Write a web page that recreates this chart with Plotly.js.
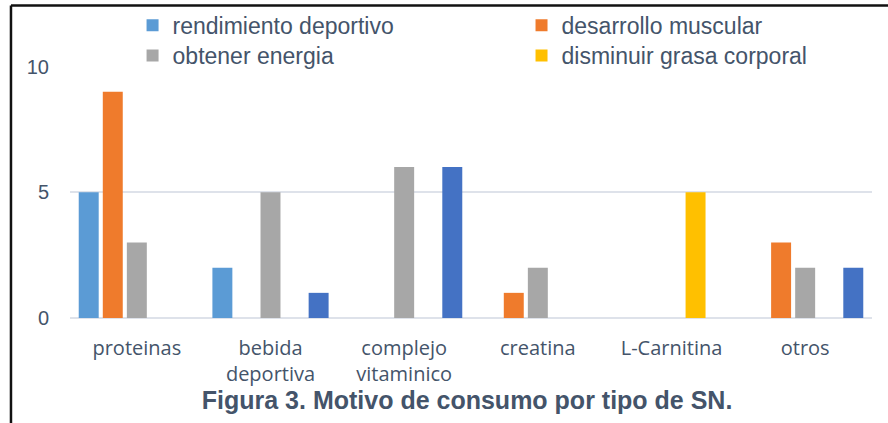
<!DOCTYPE html>
<html>
<head>
<meta charset="utf-8">
<script src="https://cdn.plot.ly/plotly-3.0.1.min.js"></script>
<style>html,body{margin:0;padding:0;background:#fff;}#chart{width:888px;height:423px;}</style>
</head>
<body>
<div id="chart"></div>
<script>
const categories = ["proteinas", "bebida<br>deportiva", "complejo<br>vitaminico", "creatina", "L-Carnitina", "otros"];
const rendimientoDeportivo = [5, 2, 0, 0, 0, 0];
const desarrolloMuscular = [9, 0, 0, 1, 0, 3];
const obtenerEnergia = [3, 5, 6, 2, 0, 2];
const disminuirGrasa = [0, 0, 0, 0, 5, 0];
const otroMotivo = [0, 1, 6, 0, 0, 2];
const seriesNames = ["rendimiento deportivo", "desarrollo muscular", "obtener energia", "disminuir grasa corporal", "otro motivo"];
const yTickVals = [0, 5, 10];
const yTickText = ["0", "5", "10"];
const chartTitle = "Figura 3. Motivo de consumo por tipo de SN.";

const textColor = "#44546A";
const colors = ["#5B9BD5", "#EF7B2C", "#A7A7A7", "#FFC000", "#4472C4"];
const values = [rendimientoDeportivo, desarrolloMuscular, obtenerEnergia, disminuirGrasa, otroMotivo];
const legendIds = ["legend", "legend2", "legend3", "legend4", "legend"];

const traces = values.map((v, i) => ({
  type: "bar",
  x: categories,
  y: v,
  name: seriesNames[i],
  marker: {color: colors[i], line: {width: 0}},
  legend: legendIds[i],
  showlegend: i < 4,
  hoverinfo: "x+y+name"
}));

const legendFont = {family: "Liberation Sans, Arial, sans-serif", size: 23, color: textColor};
function legendBox(x, y) {
  return {
    orientation: "v",
    x: x, xanchor: "left",
    y: y, yanchor: "top",
    bgcolor: "rgba(0,0,0,0)",
    borderwidth: 0,
    font: legendFont
  };
}

const layout = {
  width: 888,
  height: 423,
  margin: {l: 70, r: 16, t: 66, b: 105, autoexpand: false},
  paper_bgcolor: "#ffffff",
  plot_bgcolor: "#ffffff",
  barmode: "group",
  bargap: 0.1,
  bargroupgap: 0.17,
  title: {
    text: "<b>" + chartTitle + "</b>",
    font: {family: "Liberation Sans, Arial, sans-serif", size: 25, color: textColor},
    xref: "container", x: 0.526, xanchor: "center",
    yref: "container", y: 0.054, yanchor: "middle"
  },
  xaxis: {
    type: "category",
    showgrid: false,
    showline: false,
    zeroline: false,
    ticks: "",
    ticklabelstandoff: 16,
    automargin: false,
    tickfont: {family: "Open Sans, sans-serif", size: 20, color: textColor}
  },
  yaxis: {
    range: [0, 10.02],
    tickvals: yTickVals,
    ticktext: yTickText,
    showgrid: true,
    gridcolor: "#DEE2EA",
    gridwidth: 2,
    zeroline: true,
    zerolinecolor: "#DEE2EA",
    zerolinewidth: 2,
    showline: false,
    ticks: "",
    ticklabelstandoff: 20,
    automargin: false,
    tickfont: {family: "Liberation Sans, Arial, sans-serif", size: 20, color: textColor}
  },
  legend: legendBox(0.078, 1.247),
  legend2: legendBox(0.563, 1.247),
  legend3: legendBox(0.078, 1.127),
  legend4: legendBox(0.563, 1.127),
  shapes: [
    {type: "line", xref: "paper", yref: "paper", x0: -0.0736, x1: -0.0736, y0: 1.2401, y1: -0.43, line: {color: "#111111", width: 2.5}},
    {type: "line", xref: "paper", yref: "paper", x0: -0.0736, x1: 1.03, y0: 1.2401, y1: 1.2401, line: {color: "#111111", width: 2.5}}
  ],
  showlegend: true
};

Plotly.newPlot("chart", traces, layout, {displayModeBar: false, staticPlot: true});
</script>
</body>
</html>
